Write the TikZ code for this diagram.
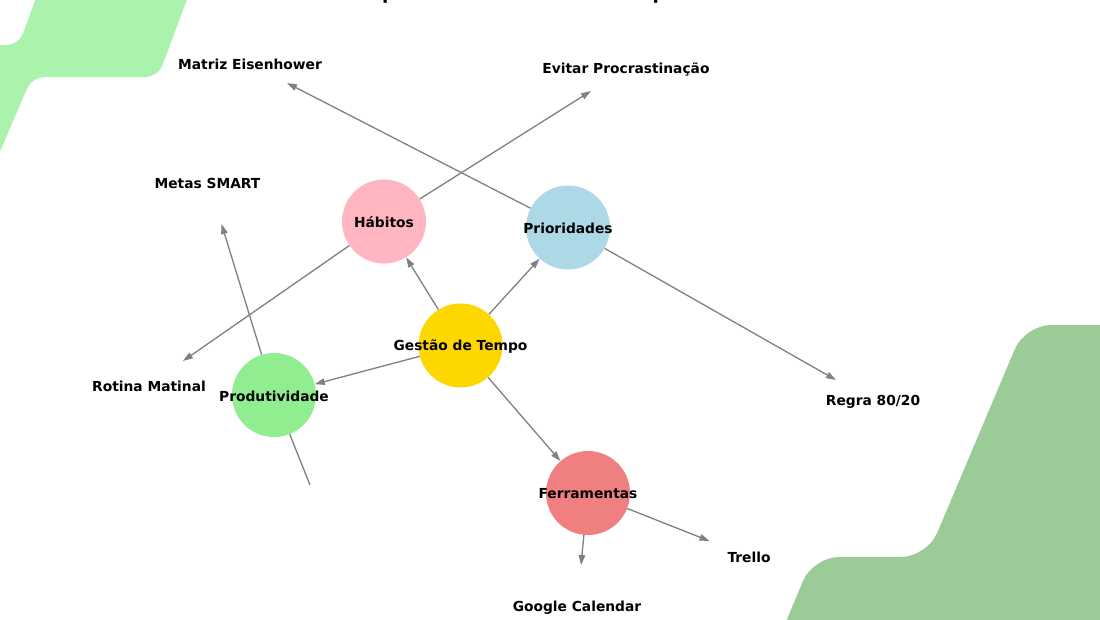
\documentclass[tikz,border=0pt]{standalone}
\usepackage{fontspec}
\setmainfont{DejaVu Sans}
\usetikzlibrary{arrows.meta}
\definecolor{bggreenA}{RGB}{171,242,172}
\definecolor{bggreenB}{RGB}{155,203,150}
\definecolor{cgold}{RGB}{255,215,0}
\definecolor{lpink}{RGB}{255,182,193}
\definecolor{lblue}{RGB}{173,216,230}
\definecolor{lgreen}{RGB}{144,238,144}
\definecolor{lcoral}{RGB}{240,128,128}
\definecolor{edgegray}{RGB}{128,128,128}
\tikzset{
  topic/.style={circle, minimum size=84pt, inner sep=0pt, draw=none},
  lab/.style={font=\bfseries\fontsize{13.8}{16}\selectfont, inner sep=0pt, text=black, yshift=-1pt},
  titlelab/.style={font=\bfseries\fontsize{18.3}{22}\selectfont, inner sep=0pt, text=black, anchor=base},
  conn/.style={draw=edgegray, line width=1.3pt, -{Triangle[length=10pt,width=6.5pt]}},
  plainconn/.style={draw=edgegray, line width=1.3pt},
}
\begin{document}
\begin{tikzpicture}[x=1pt,y=-1pt]
\useasboundingbox (0,0) rectangle (1100,619);
\clip (0,0) rectangle (1100,619);
\fill[white] (0,0) rectangle (1100,619);
% background shapes
\fill[bggreenA, rounded corners=12pt] (46,-30) -- (19,45) -- (-30,45) -- (-30,221) -- (32,77) -- (158,77) -- (198,-30) -- cycle;
\fill[bggreenB, rounded corners=26pt] (1025,325) -- (1130,325) -- (1130,660) -- (770,660) -- (813,557) -- (927,557) -- cycle;
% title (mostly above the page)
\node[titlelab] (title) at (515,-1) {Mapa Mental: Gestão de Tempo};
% topic circles
\node[topic, fill=cgold] (g) at (460.5,345.5) {};
\node[topic, fill=lpink] (h) at (384,221.5) {};
\node[topic, fill=lblue] (p) at (568,227.5) {};
\node[topic, fill=lgreen] (d) at (274,395) {};
\node[topic, fill=lcoral] (f) at (588,493) {};
% leaf points
\coordinate (tmat) at (287,83);
\coordinate (tevi) at (591,91);
\coordinate (trot) at (183,361);
\coordinate (tmet) at (221.5,224);
\coordinate (treg) at (836,380);
\coordinate (ttre) at (709.5,541);
\coordinate (tgoo) at (581,565);
\coordinate (tpro) at (310,485);
% connectors
\draw[conn] (g) -- (h);
\draw[conn] (g) -- (p);
\draw[conn] (g) -- (d);
\draw[conn] (g) -- (f);
\draw[conn] (h) -- (trot);
\draw[conn] (h) -- (tevi);
\draw[conn] (p) -- (tmat);
\draw[conn] (p) -- (treg);
\draw[conn] (d) -- (tmet);
\draw[plainconn] (d) -- (tpro);
\draw[conn] (f) -- (ttre);
\draw[conn] (f) -- (tgoo);
% labels
\node[lab] (lg) at (g) {Gestão de Tempo};
\node[lab] (lh) at (h) {Hábitos};
\node[lab] (lp) at (p) {Prioridades};
\node[lab] (ld) at (d) {Produtividade};
\node[lab] (lf) at (f) {Ferramentas};
\node[lab] (lmat) at (250,63) {Matriz Eisenhower};
\node[lab] (levi) at (626,68) {Evitar Procrastinação};
\node[lab] (lmet) at (207.5,182) {Metas SMART};
\node[lab] (lrot) at (149,385) {Rotina Matinal};
\node[lab] (lreg) at (873,400.5) {Regra 80/20};
\node[lab] (ltre) at (749,556.5) {Trello};
\node[lab] (lgoo) at (577,607) {Google Calendar};
\end{tikzpicture}
\end{document}
